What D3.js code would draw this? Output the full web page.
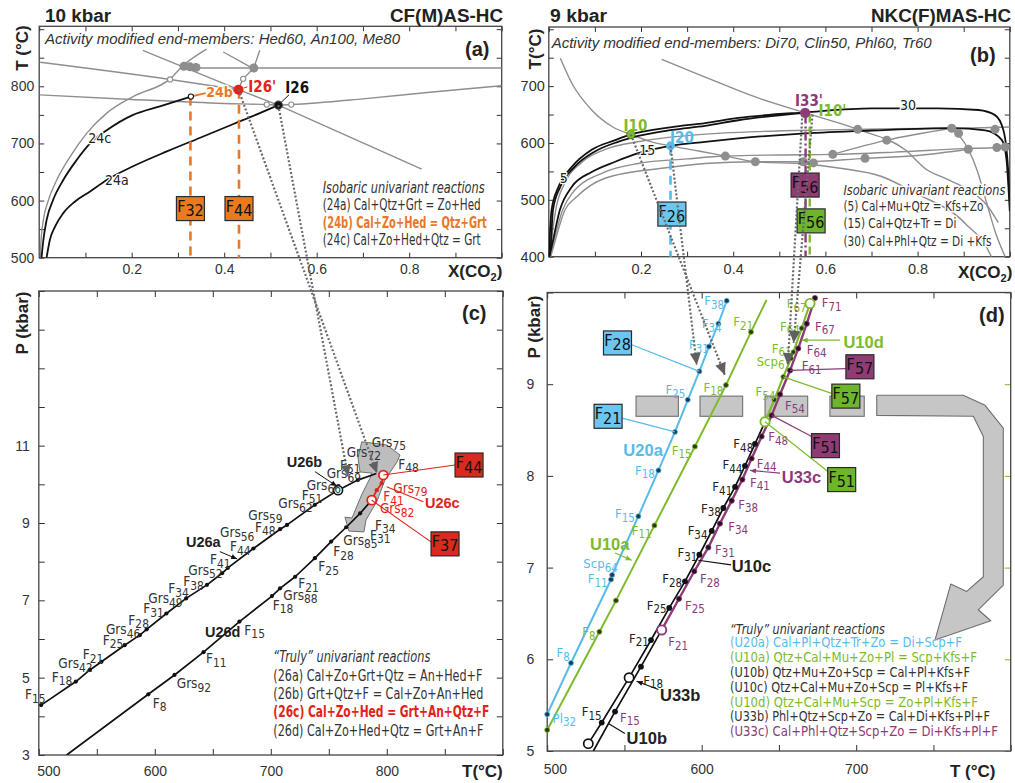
<!DOCTYPE html>
<html><head><meta charset="utf-8">
<script src="https://cdn.jsdelivr.net/npm/d3@7"></script>
<style>body{margin:0;background:#fff}svg{display:block}</style>
</head><body>
<script>
// ================= DATA =================
// ---- Panel (a): 10 kbar, X(CO2) vs T(°C)
const a24a = [[0.016,500],[0.023,531],[0.034,554],[0.052,578],[0.077,598],[0.110,616],[0.146,636],[0.203,660],[0.276,686],[0.348,710],[0.420,734],[0.477,753],[0.517,767]];
const a24c = [[0.005,500],[0.009,531],[0.016,566],[0.030,601],[0.052,636],[0.081,671],[0.110,700],[0.146,723],[0.203,750],[0.261,765],[0.328,782]];
const aGrayOuter = [[0.002,500],[0.004,531],[0.009,566],[0.020,601],[0.038,636],[0.067,677],[0.103,718],[0.146,753],[0.203,782],[0.283,813],[0.312,837],[0.348,858],[0.362,865]];
const aGrayDiag = [[0.224,863],[0.431,794],[0.517,767],[0.827,655]];
const aGrayUpper = [[0.002,842],[0.283,812],[0.431,794]];
const aGrayFlat = [[0.001,785],[0.2,777],[0.4,770],[0.492,768],[0.517,767],[0.545,768],[0.7,778],[0.85,790],[1,801]];
const aGrayHoriz = [[0.341,832],[1,832]];
const aGrayRight = [[0.477,863],[0.464,832],[0.441,813],[0.431,796]];
const aGrayShort = [[0.398,860],[0.463,831]];
const aBlobs = [[0.313,835],[0.326,834],[0.339,833],[0.464,832]];
const aOpen = [[0.283,812],[0.441,813],[0.492,768],[0.545,768]];
const aI26p = [0.431,794], aI26 = [0.517,767], a24bStart = [0.328,782];
const aDashed = [[0.327,782],[0.432,794]];
const aBoxes = [[0.327,586,"32"],[0.432,586,"44"]];

// ---- Panel (b): 9 kbar
const bA = [[0,400],[0.001,417],[0.006,482],[0.021,523],[0.05,558],[0.093,588],[0.144,605],[0.178,615],[0.267,628],[0.339,635],[0.411,644],[0.556,654],[0.701,661],[0.845,661],[0.932,658],[0.968,649],[0.986,623],[0.993,588],[0.997,546],[1.0,500]];
const bB = [[0.001,400],[0.004,417],[0.009,482],[0.025,523],[0.056,558],[0.1,585],[0.15,602],[0.178,609],[0.267,623],[0.339,630],[0.411,640],[0.556,653]];
const bC = [[0.001,400],[0.006,417],[0.024,482],[0.05,523],[0.093,549],[0.144,567],[0.194,582],[0.264,595],[0.339,602],[0.411,608],[0.556,617],[0.701,622],[0.874,626],[0.947,622],[0.983,605],[0.993,570],[0.997,523],[1.0,480]];
const bGc = [[0.002,400],[0.006,430],[0.015,482],[0.035,530],[0.07,565],[0.12,588],[0.2,603],[0.3,613],[0.45,620],[0.6,623],[0.75,625],[0.9,626],[1.0,628]];
const bGd = [[0.003,400],[0.008,417],[0.03,482],[0.05,511],[0.122,549],[0.194,564],[0.3,572],[0.383,577],[0.5,579],[0.616,580],[0.75,584],[0.9,590],[0.972,592],[1.0,594]];
const bGe = [[0.004,400],[0.01,417],[0.035,482],[0.06,505],[0.122,538],[0.25,556],[0.339,564],[0.448,567],[0.552,567],[0.686,573],[0.8,578],[0.91,589]];
const bGa = [[0.025,749],[0.050,705],[0.093,658],[0.137,629],[0.178,615],[0.223,602],[0.264,595],[0.325,586],[0.383,577],[0.448,567],[0.556,563],[0.628,556],[0.722,541],[0.8,510],[0.888,470],[0.91,453],[0.943,426],[0.96,400]];
const bGb = [[0.245,747],[0.339,716],[0.448,681],[0.556,653],[0.670,624],[0.773,588],[0.82,553],[0.859,538],[0.928,508],[0.95,491],[0.975,460]];
const bGf = [[0.616,580],[0.733,605],[0.874,626]];
const bGg = [[0.874,626],[0.91,589],[0.93,550],[0.95,494],[0.97,440],[0.99,400]];
const bDots = [[0.383,577],[0.448,567],[0.552,567],[0.574,565],[0.616,580],[0.686,573],[0.670,624],[0.733,605],[0.874,626],[0.889,617],[0.910,589],[0.968,624],[0.972,592],[0.990,593]];
const bI10 = [0.178,615], bI20 = [0.264,595], bI33 = [0.556,653];
const bBoxes = [[0.267,475,"26","blue"],[0.556,526,"56","purple"],[0.569,463,"56","green"]];

// ---- Panel (c): P-T, CF(M)AS
const cU26a = [[502,4.29],[532,4.90],[544,5.20],[554,5.41],[574,5.84],[587,6.10],[593,6.25],[610,6.66],[627,7.05],[645,7.40],[658,7.70],[663,7.84],[685,8.34],[708,8.84],[714,8.95],[738,9.47],[758,9.85],[775,10.11],[791,10.28]];
const cU26d = [[524,3.0],[594.4,4.57],[617,5.07],[642,5.66],[673,6.45],[701,7.11],[708,7.31],[721,7.61],[738,8.09],[752,8.52],[765,8.89],[777,9.25],[787,9.59]];
const cU26c = [[787,9.59],[791.3,9.85],[795.6,10.03],[797,10.24]];
const cShape = [[778.4,11.10],[799.9,11.02],[811.4,10.76],[808.8,10.58],[798.4,10.11],[791.3,9.55],[782.1,9.08],[780.3,8.77],[767.4,8.79],[763.9,9.15],[770.0,9.13],[778.6,9.75],[785.5,10.16],[787.2,10.29],[776.9,10.32],[775.2,10.68]];
const cU26bPt = [758,9.85];
const cBoxes = [[870.9,10.50,"44"],[850.2,8.46,"37"]];
const cLabA = [[787,11.10,"Grs","75"],[765.4,10.84,"Grs","72"],[759.7,10.50,"F","51"],[809.9,10.53,"F","48"],[748.2,10.28,"Grs","69"],[730.9,9.98,"Grs","66"],[726.6,9.72,"F","51"],[706.5,9.51,"Grs","62"],[680.6,9.21,"Grs","59"],[686.4,8.90,"F","48"],[656.2,8.75,"Grs","56"],[664.8,8.39,"F","44"],[647.6,8.06,"F","41"],[628.9,7.78,"Grs","52"],[624.6,7.48,"F","38"],[611.6,7.31,"F","34"],[594.4,7.05,"Grs","49"],[590.1,6.79,"F","31"],[577.2,6.49,"F","28"],[557.9,6.25,"Grs","46"],[555.1,5.97,"F","25"],[537.8,5.60,"F","21"],[516.8,5.37,"Grs","42"],[511.1,5.02,"F","18"],[488.1,4.57,"F","15"]];
const cLabD = [[789.8,8.95,"F","34"],[785.5,8.69,"F","31"],[762.5,8.56,"Grs","85"],[753.9,8.26,"F","28"],[741,7.87,"F","25"],[723.7,7.44,"F","21"],[710.8,7.14,"Grs","88"],[701.6,6.88,"F","18"],[677.2,6.23,"F","15"],[644.1,5.50,"F","11"],[618.9,4.85,"Grs","92"],[598.2,4.34,"F","8"]];
const cLabRed = [[805.6,9.90,"Grs","79"],[797,9.68,"F","41"],[794.1,9.38,"Grs","82"]];

// ---- Panel (d): P-T, NKC(F)MAS
const dU20a = [[500,5.40],[515.4,5.96],[541.3,6.87],[542,6.92],[559,7.56],[572,8.06],[582.7,8.48],[591,8.83],[598.5,9.14],[604.7,9.41],[610.8,9.66],[616.2,9.91]];
const dU10a = [[500,5.23],[533.8,6.30],[544.5,6.64],[569.4,7.46],[595.6,8.32],[615.7,8.99],[631.9,9.57],[642,9.92]];
const dU10L = [[526.6,5.08],[535.3,5.31],[553,5.80],[567.2,6.21],[579,6.56],[589.2,6.85],[598.5,7.14],[606.5,7.40],[614,7.65],[621.6,7.88],[628,8.11],[634.5,8.35],[641,8.59]];
const dU33b = [[529.9,5.0],[543.9,5.43],[560.7,5.92],[574.1,6.32]];
const dU33c = [[574.1,6.32],[585.3,6.66],[595.2,6.96],[604.3,7.22],[611.8,7.48],[619.4,7.73],[626.3,7.96],[632.3,8.19],[638.8,8.43],[645.3,8.66],[650.7,8.89],[657.2,9.15],[662.5,9.39],[668,9.66],[673.3,9.94]];
const dU10d = [[641,8.59],[647,8.83],[652.8,9.08],[657.8,9.28],[659.3,9.35],[664.7,9.61],[670.1,9.88]];
const dRects = [[557.5,584.9],[598.9,626.5],[641,668.6],[683,705.2]];
const dRectP = [8.65,8.87];
const dArrow = [[713.3,8.88],[769.3,8.88],[783.4,8.77],[795.2,8.52],[795.2,6.81],[779.0,6.54],[787.1,6.42],[751.0,6.21],[761.2,6.82],[771.5,6.74],[782.3,6.90],[782.3,8.43],[775.8,8.65],[713.3,8.66]];
const dBoxes = [[545.5,9.45,"28","blue"],[539.4,8.65,"21","blue"],[702.4,9.19,"57","purple"],[693.3,8.87,"57","green"],[680.1,8.33,"51","purple"],[690.6,7.96,"51","green"]];
const dLabBlue = [[601.7,9.91,"F","38"],[600,9.66,"F","34"],[591.8,9.43,"F","31"],[576.6,8.94,"F","25"],[556.8,8.06,"F","18"],[543.9,7.59,"F","15"],[523.4,7.04,"Scp","64"],[526.2,6.88,"F","11"],[506.1,6.07,"F","8"],[503.5,5.36,"Pl","32"]];
const dLabGreen = [[620.5,9.68,"F","21"],[601.1,8.97,"F","18"],[580.6,8.28,"F","15"],[554.7,7.41,"F","11"],[522.7,6.30,"F","8"],[655,9.88,"F","67"],[650.7,9.63,"F","64"],[645.3,9.39,"F","61"],[635.6,9.25,"Scp","6"],[634.9,8.92,"F","54"]];
const dLabPurple = [[677.7,9.89,"F","71"],[673.3,9.63,"F","67"],[668,9.38,"F","64"],[664.7,9.20,"F","61"],[653.9,8.77,"F","54"],[643.1,8.43,"F","48"],[635.6,8.14,"F","44"],[631.3,7.93,"F","41"],[623.7,7.69,"F","38"],[617.2,7.45,"F","34"],[608.6,7.20,"F","31"],[598.9,6.88,"F","28"],[589.2,6.59,"F","25"],[578.4,6.19,"F","21"],[547.1,5.37,"F","15"]];
const dLabBlack = [[620.5,8.35,"F","48"],[613.4,8.12,"F","44"],[606.9,7.88,"F","41"],[599.6,7.65,"F","38"],[590.9,7.40,"F","34"],[584.4,7.16,"F","31"],[574.5,6.88,"F","28"],[564.4,6.59,"F","25"],[552.9,6.23,"F","21"],[562.2,5.77,"F","18"],[522.3,5.43,"F","15"]];

// links between panels (from point in upper panel to point in lower panel)
const acLinks = [[aI26p,[791.6,10.29]],[aI26,[766.6,10.21]]];
const bdLinks = [[bI10,[615,9.10]],[bI20,[596.8,9.21]],[[0.55,650],[655.7,9.21]],[[0.572,650],[659.5,9.45]]];

// legend texts
const legAText = ["Isobaric univariant reactions","(24a) Cal+Qtz+Grt = Zo+Hed","(24b) Cal+Zo+Hed = Qtz+Grt","(24c) Cal+Zo+Hed+Qtz = Grt"];
const legBText = ["Isobaric univariant reactions","(5) Cal+Mu+Qtz = Kfs+Zo","(15) Cal+Qtz+Tr = Di","(30) Cal+Phl+Qtz = Di +Kfs"];
const legCText = ["\u201cTruly\u201d univariant reactions","(26a) Cal+Zo+Grt+Qtz = An+Hed+F","(26b) Grt+Qtz+F = Cal+Zo+An+Hed","(26c) Cal+Zo+Hed = Grt+An+Qtz+F","(26d) Cal+Zo+Hed+Qtz = Grt+An+F"];
const legDText = ["\u201cTruly\u201d univariant reactions","(U20a) Cal+Pl+Qtz+Tr+Zo = Di+Scp+F","(U10a) Qtz+Cal+Mu+Zo+Pl = Scp+Kfs+F","(U10b) Qtz+Mu+Zo+Scp = Cal+Pl+Kfs+F","(U10c) Qtz+Cal+Mu+Zo+Scp = Pl+Kfs+F","(U10d) Qtz+Cal+Mu+Scp = Zo+Pl+Kfs+F","(U33b) Phl+Qtz+Scp+Zo = Cal+Di+Kfs+Pl+F","(U33c) Cal+Phl+Qtz+Scp+Zo = Di+Kfs+Pl+F"];

// ================= STYLE =================
const SANS = '"Liberation Sans", Arial, Helvetica, sans-serif';
const NARROW = '"Liberation Sans Narrow", "Arial Narrow", "DejaVu Sans Condensed", sans-serif';
const COL = {red:"#E2231A", orange:"#E8782A", blue:"#58BBE9", green:"#7DBB2C", purple:"#8C3B76"};
const BOX = {orange:"#EA7A1F", blue:"#6BC7F0", purple:"#8E3C73", green:"#6DB52B", red:"#D92A1F"};

const W=1015,H=783;
const svg = d3.select("body").append("svg").attr("width",W).attr("height",H);
svg.append("rect").attr("width",W).attr("height",H).attr("fill","#fff");
const defs = svg.append("defs");

const xA = d3.scaleLinear().domain([0,1]).range([39.2,501.7]);
const yA = d3.scaleLinear().domain([500,905]).range([257.7,26.3]);
const xB = d3.scaleLinear().domain([0,1]).range([548.8,1009.8]);
const yB = d3.scaleLinear().domain([400,804]).range([256.7,27]);
const xC = d3.scaleLinear().domain([500,900]).range([38.8,502.8]);
const yC = d3.scaleLinear().domain([3,15]).range([755,291]);
const xD = d3.scaleLinear().domain([500,800]).range([547.2,1010.7]);
const yD = d3.scaleLinear().domain([5,10]).range([751,292.5]);

function clip(id,xs,ys){const [x0,x1]=xs.range(),[y0,y1]=ys.range();defs.append("clipPath").attr("id",id).append("rect").attr("x",x0).attr("y",y1).attr("width",x1-x0).attr("height",y0-y1);}
clip("ca",xA,yA);clip("cb",xB,yB);clip("cc",xC,yC);clip("cd",xD,yD);

function frame(g,xs,ys,o){
  const [x0,x1]=xs.range(),[y0,y1]=ys.range();
  const st = s=>s.attr("font-size",o.fs||14).attr("font-family",SANS).attr("color","#333");
  const ts=o.ts||5;
  g.append("g").attr("transform",`translate(0,${y0})`).call(d3.axisBottom(xs).tickValues(o.xt).tickSize(-ts).tickSizeOuter(0).tickPadding(o.xpad).tickFormat(o.xf)).call(st);
  g.append("g").attr("transform",`translate(0,${y1})`).call(d3.axisTop(xs).tickValues(o.xt).tickSize(-ts).tickSizeOuter(0).tickFormat(()=>"")).call(st);
  g.append("g").attr("transform",`translate(${x0},0)`).call(d3.axisLeft(ys).tickValues(o.yt).tickSize(-ts).tickSizeOuter(0).tickPadding(o.ypad).tickFormat(o.yf)).call(st);
  const r=g.append("g").attr("transform",`translate(${x1},0)`).call(d3.axisRight(ys).tickValues(o.yt).tickSize(-ts).tickSizeOuter(0).tickFormat(()=>"")).call(st);
  if(o.rcol) r.attr("color",o.rcol);
  g.selectAll(".domain").remove();
  g.append("rect").attr("x",x0).attr("y",y1).attr("width",x1-x0).attr("height",y0-y1).attr("fill","none").attr("stroke","#444").attr("stroke-width",1.3);
  return g;
}
function path(g,xs,ys,data,o){
  const ln=d3.line().x(d=>xs(d[0])).y(d=>ys(d[1])).curve(o.curve||d3.curveLinear);
  const p=g.append("path").attr("d",ln(data)).attr("fill",o.fill||"none").attr("stroke",o.stroke||"#111").attr("stroke-width",o.w||1.5).attr("stroke-linejoin","round");
  if(o.dash) p.attr("stroke-dasharray",o.dash);
  if(o.clip) p.attr("clip-path",`url(#${o.clip})`);
  return p;
}
function dots(g,xs,ys,data,o){
  g.selectAll(null).data(data).enter().append("circle").attr("cx",d=>xs(d[0])).attr("cy",d=>ys(d[1])).attr("r",o.r||2.2)
    .attr("fill",o.fill||"#111").attr("stroke",o.stroke||"none").attr("stroke-width",o.sw||1);
}
function lab(g,xs,ys,d,o={}){
  const t=g.append("text").attr("x",xs(d[0])).attr("y",ys(d[1])).attr("dy","0.35em")
    .attr("font-family",o.font||NARROW).attr("font-size",o.size||12).attr("fill",o.color||"#222");
  if(o.weight) t.attr("font-weight",o.weight);
  if(o.anchor) t.attr("text-anchor",o.anchor);
  if(o.halo) t.attr("stroke","#fff").attr("stroke-width",o.halo).attr("stroke-linejoin","round").attr("paint-order","stroke");
  t.append("tspan").text(d[2]);
  if(d[3]) t.append("tspan").attr("dy",o.sdy||3.5).attr("font-size",(o.size||12)*0.88).text(d[3]);
  return t;
}
function box(g,cx,cy,sub,fill){
  const w=28,h=24;
  g.append("rect").attr("x",cx-w/2).attr("y",cy-h/2).attr("width",w).attr("height",h).attr("fill",fill).attr("stroke","#2a2a2a").attr("stroke-width",1.2);
  const t=g.append("text").attr("x",cx).attr("y",cy+3).attr("text-anchor","middle").attr("font-family",NARROW).attr("font-size",16).attr("fill","#111");
  t.append("tspan").text("F");
  t.append("tspan").attr("dy",4.5).attr("font-size",16).text(sub);
}
function arrowHead(g,x1,y1,x2,y2,o={}){
  const a=Math.atan2(y2-y1,x2-x1),L=o.len||11,hw=o.hw||5;
  const bx=x2-L*Math.cos(a),by=y2-L*Math.sin(a);
  const px=-Math.sin(a),py=Math.cos(a);
  g.append("polygon").attr("points",`${x2},${y2} ${bx+hw*px},${by+hw*py} ${bx-hw*px},${by-hw*py}`).attr("fill",o.fill||"#666");
}
function legend(g,x,ys,texts,widths,o){
  texts.forEach((t,i)=>{
    const e=g.append("text").attr("y",ys[i]).attr("font-family",NARROW).attr("font-size",o.size).attr("fill",(o.colors&&o.colors[i])||"#333")
      .attr("textLength",widths[i]).attr("lengthAdjust","spacingAndGlyphs").text(t);
    if(o.end) e.attr("x",x+widths[i]).attr("text-anchor","end"); else e.attr("x",x);
    if(i===0) e.attr("font-style","italic");
    if(o.bold&&o.bold[i]) e.attr("font-weight","bold");
    if(o.halo) e.attr("stroke","#fff").attr("stroke-width",3).attr("paint-order","stroke").attr("stroke-linejoin","round");
  });
}
function title(g,x,y,txt,o){
  const t=g.append("text").attr("x",x).attr("y",y).attr("font-family",SANS).attr("font-weight","bold").attr("font-size",o.size).attr("fill","#222").text(txt);
  if(o.anchor) t.attr("text-anchor",o.anchor);
  if(o.len) t.attr("textLength",o.len).attr("lengthAdjust","spacingAndGlyphs");
  return t;
}
function rotLabel(g,x,y,txt,size){
  g.append("text").attr("transform",`translate(${x},${y}) rotate(-90)`).attr("text-anchor","middle").attr("font-family",SANS).attr("font-weight","bold").attr("font-size",size).attr("fill","#222").text(txt);
}
function xco2(g,x,y){
  const t=g.append("text").attr("x",x).attr("y",y).attr("font-family",SANS).attr("font-weight","bold").attr("font-size",17).attr("fill","#222");
  t.append("tspan").text("X(CO");t.append("tspan").attr("dy",4).attr("font-size",11).text("2");t.append("tspan").attr("dy",-4).text(")");
}
const xtFmt = d=>{const k=Math.round(d*10);return (k%2===0&&k>0&&k<10)?(k/10).toFixed(1):"";};

// ================= PANEL (a) =================
const gA=svg.append("g");
frame(gA,xA,yA,{xt:d3.range(0,11).map(i=>i/10),xf:xtFmt,xpad:6,yt:d3.range(500,901,50),yf:d=>(d%100===0&&d<=800)?d:"",ypad:5,fs:14});
const gray={stroke:"#8e8e8e",w:1.4,clip:"ca"};
path(gA,xA,yA,aGrayOuter,{...gray,curve:d3.curveMonotoneX});
path(gA,xA,yA,aGrayDiag,gray);
path(gA,xA,yA,aGrayUpper,{...gray,curve:d3.curveMonotoneX});
path(gA,xA,yA,aGrayFlat,{...gray,curve:d3.curveMonotoneX});
path(gA,xA,yA,aGrayHoriz,{...gray,w:1.6});
path(gA,xA,yA,aGrayRight,gray);
path(gA,xA,yA,aGrayShort,gray);
path(gA,xA,yA,a24a,{stroke:"#111",w:1.8,curve:d3.curveMonotoneX,clip:"ca"});
path(gA,xA,yA,a24c,{stroke:"#111",w:1.8,curve:d3.curveMonotoneX,clip:"ca"});
dots(gA,xA,yA,aBlobs,{r:4.5,fill:"#8e8e8e"});
dots(gA,xA,yA,aOpen,{r:2.6,fill:"#fff",stroke:"#8e8e8e",sw:1.1});
aDashed.forEach(d=>path(gA,xA,yA,[[d[0],d[1]],[d[0],500]],{stroke:COL.orange,w:2.6,dash:"9,6"}));
path(gA,xA,yA,[a24bStart,[0.360,788]],{stroke:COL.orange,w:2});
path(gA,xA,yA,[[0.405,791],aI26p],{stroke:COL.orange,w:2});
dots(gA,xA,yA,[a24bStart],{r:2.6,fill:"#fff",stroke:"#111",sw:1.1});
lab(gA,xA,yA,[0.361,789,"24b"],{color:COL.orange,size:14,weight:"bold",halo:2.5});
lab(gA,xA,yA,[0.106,709,"24c"],{size:14,halo:2.5,color:"#222"});
lab(gA,xA,yA,[0.142,636,"24a"],{size:14,halo:2.5,color:"#222"});
path(gA,xA,yA,[aI26,[0.54,785]],{stroke:"#111",w:1});
dots(gA,xA,yA,[aI26],{r:4.2,fill:"#111",stroke:"#555",sw:1});
dots(gA,xA,yA,[aI26p],{r:5,fill:COL.red});
path(gA,xA,yA,[[0.442,797],[0.45,799]],{stroke:COL.red,w:1});
lab(gA,xA,yA,[0.452,800,"I26'"],{color:COL.red,size:15,weight:"bold"});
lab(gA,xA,yA,[0.532,797,"I26"],{color:"#111",size:15,weight:"bold"});
legend(gA,xA(0.613),[193,210,227.5,244.5],legAText,[162,158,164,158],{size:15,end:true,colors:["#333","#333",COL.orange,"#333"],bold:[false,false,true,false]});
gA.append("text").attr("x",45).attr("y",44).attr("font-family",SANS).attr("font-style","italic").attr("font-size",14.5).attr("fill","#333")
  .attr("textLength",355).attr("lengthAdjust","spacingAndGlyphs").text("Activity modified end-members: Hed60, An100, Me80");
title(gA,45,22,"10 kbar",{size:18,len:66});
title(gA,503,22,"CF(M)AS-HC",{size:18,anchor:"end",len:113});
title(gA,465,56,"(a)",{size:20});
rotLabel(gA,28,48,"T (°C)",17);
xco2(gA,448,277);

// ================= PANEL (b) =================
const gB=svg.append("g");
frame(gB,xB,yB,{xt:d3.range(0,11).map(i=>i/10),xf:xtFmt,xpad:7,yt:d3.range(400,801,50),yf:d=>(d%100===0&&d<=700)?d:"",ypad:4,fs:14.5});
const grayB={stroke:"#8e8e8e",w:1.4,clip:"cb",curve:d3.curveMonotoneX};
[bGc,bGd,bGe,bGa,bGb,bGf,bGg].forEach(c=>path(gB,xB,yB,c,grayB));
[bA,bB,bC].forEach(c=>path(gB,xB,yB,c,{stroke:"#111",w:1.8,clip:"cb",curve:d3.curveMonotoneX}));
dots(gB,xB,yB,bDots,{r:4.5,fill:"#8e8e8e"});
path(gB,xB,yB,[bI20,[bI20[0],400]],{stroke:COL.blue,w:2.6,dash:"9,6"});
path(gB,xB,yB,[[0.557,650],[0.557,400]],{stroke:COL.purple,w:2.4,dash:"9,3,2,3"});
path(gB,xB,yB,[[0.566,650],[0.566,400]],{stroke:COL.green,w:2.4,dash:"8,4"});
lab(gB,xB,yB,[0.024,538,"5"],{size:14,halo:2.5});
lab(gB,xB,yB,[0.196,588,"15"],{size:14,halo:2.5});
lab(gB,xB,yB,[0.762,666,"30"],{size:14,halo:2.5});

// ================= PANEL (c) =================
const gC=svg.append("g");
frame(gC,xC,yC,{xt:d3.range(500,901,50),xf:d=>(d%100===0&&d<=800)?d:"",xpad:11,yt:d3.range(3,16,1),yf:d=>(d%2===1&&d<=11)?d:"",ypad:9,fs:14,ts:6});
gC.selectAll(".tick text").filter(d=>d===500).attr("text-anchor","start").attr("x",-2);
path(gC,xC,yC,cShape.concat([cShape[0]]),{fill:"#bdbdbd",stroke:"#6f6f6f",w:1});
path(gC,xC,yC,cU26a,{stroke:"#111",w:1.7,clip:"cc"});
path(gC,xC,yC,cU26d,{stroke:"#111",w:1.7,clip:"cc"});
path(gC,xC,yC,cU26c,{stroke:COL.red,w:1.7});
dots(gC,xC,yC,cU26a.filter((d,i)=>i<cU26a.length-1&&d!==cU26a[16]),{r:2.1});
dots(gC,xC,yC,cU26d.slice(1,-1),{r:2.1});
dots(gC,xC,yC,cU26c.slice(1,3),{r:2.1,fill:COL.red});
dots(gC,xC,yC,[cU26bPt],{r:4.5,fill:"#fff",stroke:"#111",sw:1.6});
dots(gC,xC,yC,[cU26c[0],cU26c[3]],{r:4.5,fill:"#fff",stroke:COL.red,sw:1.8});
cLabA.forEach(d=>lab(gC,xC,yC,d,{size:13.5,color:"#333"}));
cLabD.forEach(d=>lab(gC,xC,yC,d,{size:13.5,color:"#333"}));
cLabRed.forEach(d=>lab(gC,xC,yC,d,{size:13.5,color:COL.red}));
path(gC,xC,yC,[cU26c[3],[858.8,10.50]],{stroke:COL.red,w:1.1});
path(gC,xC,yC,[[799.9,9.94],[831.5,9.55]],{stroke:COL.red,w:1.1});
path(gC,xC,yC,[cU26c[0],[838.7,8.50]],{stroke:COL.red,w:1.1});
[[[738,10.33],[757,9.95]],[[656,8.26],[671,8.07]]].forEach(l=>{
  path(gC,xC,yC,l,{stroke:"#111",w:1});
  arrowHead(gC,xC(l[0][0]),yC(l[0][1]),xC(l[1][0]),yC(l[1][1]),{len:6,hw:2.5,fill:"#111"});
});
[["U26b",713.7,10.58,"#222"],["U26a",626.9,8.52,"#222"],["U26d",643.3,6.19,"#222"],["U26c",832.9,9.51,COL.red]].forEach(d=>
  lab(gC,xC,yC,[d[1],d[2],d[0]],{font:SANS,size:14.5,weight:"bold",color:d[3]}));
cBoxes.forEach(b=>box(gC,xC(b[0]),yC(b[1]),b[2],BOX.red));
legend(gC,xC(702.2),[662,681,699,717,735.5],legCText,[157,209,210,216,210],{size:16,end:true,colors:["#333","#333","#333",COL.red,"#333"],bold:[false,false,false,true,false]});
title(gC,462,320,"(c)",{size:20});
rotLabel(gC,28,323,"P (kbar)",17);
title(gC,462,777,"T(°C)",{size:17});

// ================= PANEL (d) =================
const gD=svg.append("g");
frame(gD,xD,yD,{xt:d3.range(500,801,50),xf:d=>(d%100===0&&d<=700)?d:"",xpad:13,yt:d3.range(5,10.01,1),yf:d=>d<=9?d:"",ypad:13,fs:14,ts:6,rcol:COL.green});
gD.selectAll(".tick text").filter(d=>d===500).attr("text-anchor","start").attr("x",-4);
dRects.forEach(r=>{
  gD.append("rect").attr("x",xD(r[0])).attr("y",yD(dRectP[1])).attr("width",xD(r[1])-xD(r[0])).attr("height",yD(dRectP[0])-yD(dRectP[1]))
    .attr("fill","#c6c6c6").attr("stroke","#6f6f6f").attr("stroke-width",1.1);
});
path(gD,xD,yD,dArrow.concat([dArrow[0]]),{fill:"#c6c6c6",stroke:"#6f6f6f",w:1.1});
path(gD,xD,yD,dU20a,{stroke:COL.blue,w:2,clip:"cd"});
path(gD,xD,yD,dU10a,{stroke:COL.green,w:2,clip:"cd"});
path(gD,xD,yD,dU10L,{stroke:"#111",w:1.7,clip:"cd"});
path(gD,xD,yD,dU33b,{stroke:"#111",w:1.7,clip:"cd"});
path(gD,xD,yD,dU33c,{stroke:COL.purple,w:2.4,clip:"cd"});
path(gD,xD,yD,dU10d,{stroke:COL.green,w:2.2,clip:"cd"});
dots(gD,xD,yD,dU20a,{r:2.5,fill:"#1d3b4a",stroke:COL.blue,sw:0.8});
dots(gD,xD,yD,dU10a.slice(0,-1),{r:2.5,fill:"#2b3a12",stroke:COL.green,sw:0.8});
dots(gD,xD,yD,dU10L.filter((d,i)=>i!==0&&i!==2&&i!==dU10L.length-1),{r:2.9,fill:"#111"});
dots(gD,xD,yD,dU33b.slice(1,3),{r:2.9,fill:"#111"});
dots(gD,xD,yD,dU33c.slice(1),{r:2.6,fill:"#2a0f22",stroke:COL.purple,sw:0.8});
dots(gD,xD,yD,dU10d.slice(1,-1),{r:2.4,fill:"#2b3a12",stroke:COL.green,sw:0.8});
dots(gD,xD,yD,[dU10L[0],dU10L[2]],{r:4.6,fill:"#fff",stroke:"#111",sw:1.7});
dots(gD,xD,yD,[dU33c[0]],{r:4.6,fill:"#fff",stroke:COL.purple,sw:1.9});
dots(gD,xD,yD,[dU10d[0],dU10d[dU10d.length-1]],{r:4.6,fill:"#fff",stroke:COL.green,sw:1.9});
dLabBlue.forEach(d=>lab(gD,xD,yD,d,{size:13,color:COL.blue}));
dLabGreen.forEach(d=>lab(gD,xD,yD,d,{size:13,color:COL.green}));
dLabPurple.forEach(d=>lab(gD,xD,yD,d,{size:13,color:COL.purple}));
dLabBlack.forEach(d=>lab(gD,xD,yD,d,{size:13,color:"#222"}));
[[[554.7,9.43],[598.5,9.14],COL.blue],[[548.6,8.63],[582.7,8.48],COL.blue],[[693.2,9.17],[657.2,9.15],COL.purple],[[684.1,8.90],[652.8,9.08],COL.green],[[671.2,8.43],[645.3,8.66],COL.purple],[[681.5,8.05],[641,8.59],COL.green]]
  .forEach(l=>path(gD,xD,yD,[l[0],l[1]],{stroke:l[2],w:1.2}));
[[[543.9,7.16],[554.7,7.08],COL.green,true],[[619,7.03],[597.8,7.08],"#111",false],[[650.7,8.03],[631.3,8.06],COL.purple,true],[[572,5.67],[557.9,5.76],"#111",true],[[550.3,5.19],[539.6,5.30],"#111",false],[[689.5,9.48],[664.7,9.48],COL.green,true]]
  .forEach(l=>{path(gD,xD,yD,[l[0],l[1]],{stroke:l[2],w:1.2});
    if(l[3]) arrowHead(gD,xD(l[0][0]),yD(l[0][1]),xD(l[1][0]),yD(l[1][1]),{len:6,hw:2.5,fill:l[2]});});
[["U20a",549.3,8.28,COL.blue],["U10a",527.7,7.26,COL.green],["U10c",619.4,7.01,"#222"],["U33c",651.8,7.99,COL.purple],["U33b",573,5.61,"#222"],["U10b",551.4,5.14,"#222"],["U10d",691.7,9.46,COL.green]]
  .forEach(d=>lab(gD,xD,yD,[d[1],d[2],d[0]],{font:SANS,size:16.5,weight:"bold",color:d[3]}));
legend(gD,xD(618.3),[633.5,646.7,661.7,676.7,691.7,706.7,721,735.7],legDText,[155,232,247,240,238,248,260,268],
  {size:14.5,end:true,colors:["#333",COL.blue,COL.green,"#333","#333",COL.green,"#333",COL.purple]});
title(gD,979,322,"(d)",{size:20});
rotLabel(gD,540,327,"P (kbar)",17);
title(gD,950,777,"T (°C)",{size:17});

// ================= LINKS (dotted, across panels) =================
const gL=svg.append("g");
acLinks.forEach(l=>{
  const x1=xA(l[0][0]),y1=yA(l[0][1]),x2=xC(l[1][0]),y2=yC(l[1][1]);
  gL.append("line").attr("x1",x1).attr("y1",y1).attr("x2",x2).attr("y2",y2).attr("stroke","#6a6a6a").attr("stroke-width",2.2).attr("stroke-dasharray","2,2");
  arrowHead(gL,x1,y1,x2,y2,{len:11,hw:5,fill:"#5f5f5f"});
});
bdLinks.forEach(l=>{
  const x1=xB(l[0][0]),y1=yB(l[0][1]),x2=xD(l[1][0]),y2=yD(l[1][1]);
  gL.append("line").attr("x1",x1).attr("y1",y1).attr("x2",x2).attr("y2",y2).attr("stroke","#6a6a6a").attr("stroke-width",2.2).attr("stroke-dasharray","2,2");
  arrowHead(gL,x1,y1,x2,y2,{len:12,hw:5.5,fill:"#5f5f5f"});
});

// ================= on-top items =================
aBoxes.forEach(b=>box(gA,xA(b[0]),yA(b[1]),b[2],BOX.orange));
bBoxes.forEach(b=>box(gB,xB(b[0]),yB(b[1]),b[2],BOX[b[3]]));
dBoxes.forEach(b=>box(gD,xD(b[0]),yD(b[1]),b[2],BOX[b[3]]));
dots(gB,xB,yB,[bI10],{r:4.2,fill:COL.green,stroke:"#4a7a18",sw:0.8});
dots(gB,xB,yB,[bI20],{r:4.5,fill:COL.blue});
dots(gB,xB,yB,[bI33],{r:5.2,fill:COL.purple});
lab(gB,xB,yB,[0.162,631,"I10"],{color:COL.green,size:15,weight:"bold"});
lab(gB,xB,yB,[0.263,610,"I20"],{color:COL.blue,size:15,weight:"bold"});
lab(gB,xB,yB,[0.534,674,"I33'"],{color:COL.purple,size:15,weight:"bold"});
lab(gB,xB,yB,[0.585,657,"I10'"],{color:COL.green,size:15,weight:"bold"});
legend(gB,xB(0.639),[194.5,211,228,246],legBText,[162,140,113,148],{size:14.5,end:true,halo:true,colors:["#333","#333","#333","#333"]});
gB.append("text").attr("x",551.7).attr("y",48).attr("font-family",SANS).attr("font-style","italic").attr("font-size",14.5).attr("fill","#333")
  .attr("textLength",380).attr("lengthAdjust","spacingAndGlyphs").text("Activity modified end-members: Di70, Clin50, Phl60, Tr60");
title(gB,550,22,"9 kbar",{size:18,len:57});
title(gB,1011,22,"NKC(F)MAS-HC",{size:18,anchor:"end",len:140});
title(gB,970,62,"(b)",{size:20});
rotLabel(gB,541,49,"T(°C)",17);
xco2(gB,958,278);
</script>
</body></html>
